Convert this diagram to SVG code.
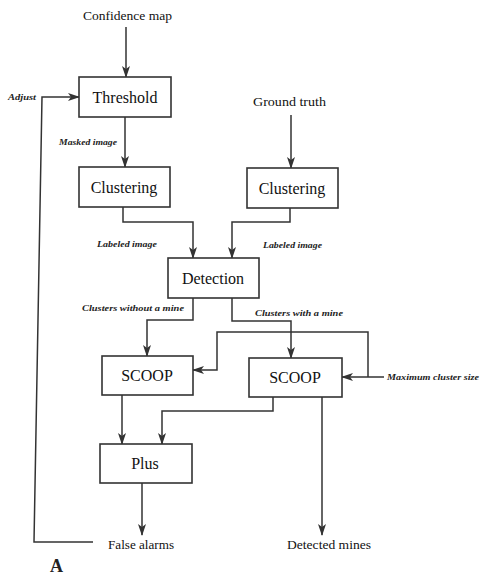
<svg xmlns="http://www.w3.org/2000/svg" width="481" height="576" viewBox="0 0 481 576">
<defs>
<marker id="ah" markerWidth="12" markerHeight="8" refX="11" refY="4" orient="auto" markerUnits="userSpaceOnUse">
<path d="M0,0 L12,4 L0,8 L3,4 Z" fill="#333"/>
</marker>
<style>
.box{fill:#fff;stroke:#333;stroke-width:1.6}
.lbl{font-family:"Liberation Serif",serif;font-size:16px;fill:#111;text-anchor:middle}
.io{font-family:"Liberation Serif",serif;font-size:12px;fill:#111}
.sm{font-family:"Liberation Serif",serif;font-size:8.5px;font-style:italic;font-weight:bold;fill:#222}
.c{fill:none;stroke:#333;stroke-width:1.5}
.a{fill:none;stroke:#333;stroke-width:1.5;marker-end:url(#ah)}
</style>
</defs>
<rect width="481" height="576" fill="#fff"/>
<g id="connectors">
<line class="a" x1="126" y1="27" x2="126" y2="77"/>
<polyline class="a" points="93,542 34,542 42,97 79,97"/>
<line class="a" x1="125" y1="117" x2="125" y2="167"/>
<line class="a" x1="291" y1="115" x2="291" y2="168"/>
<polyline class="a" points="123,207 123,222 193,222 193,258"/>
<polyline class="a" points="290,208 290,222 232,222 232,258"/>
<polyline class="a" points="193,298 193,320 147,320 147,356"/>
<polyline class="a" points="232,298 232,321 291,321 291,358"/>
<polyline class="a" points="290,332 217,332 217,370 193,370"/>
<polyline class="c" points="290,332 368,332 368,377"/>
<line class="a" x1="384" y1="377" x2="342" y2="377"/>
<line class="a" x1="122" y1="395" x2="122" y2="444"/>
<polyline class="a" points="273,397 273,411 162,411 162,444"/>
<line class="a" x1="322" y1="397" x2="322" y2="535"/>
<line class="a" x1="142" y1="483" x2="142" y2="535"/>
</g>
<g id="input-confidence"><text class="io" x="83" y="20" textLength="89" lengthAdjust="spacingAndGlyphs">Confidence map</text></g>
<g id="input-ground"><text class="io" x="253" y="106" textLength="73" lengthAdjust="spacingAndGlyphs">Ground truth</text></g>
<g id="adjust"><text class="sm" x="8" y="100" textLength="28" lengthAdjust="spacingAndGlyphs">Adjust</text></g>
<g id="threshold"><rect class="box" x="79" y="77" width="92" height="40"/><text class="lbl" x="125" y="103">Threshold</text></g>
<g id="masked-label"><text class="sm" x="59" y="145" textLength="58" lengthAdjust="spacingAndGlyphs">Masked image</text></g>
<g id="clustering-left"><rect class="box" x="79" y="167" width="91" height="40"/><text class="lbl" x="124" y="193">Clustering</text></g>
<g id="clustering-right"><rect class="box" x="247" y="168" width="91" height="40"/><text class="lbl" x="292" y="194">Clustering</text></g>
<g id="labeled-left"><text class="sm" x="97" y="247" textLength="60" lengthAdjust="spacingAndGlyphs">Labeled image</text></g>
<g id="labeled-right"><text class="sm" x="263" y="248" textLength="59" lengthAdjust="spacingAndGlyphs">Labeled image</text></g>
<g id="detection"><rect class="box" x="168" y="258" width="91" height="40"/><text class="lbl" x="213" y="284">Detection</text></g>
<g id="without-label"><text class="sm" x="82" y="311" textLength="102" lengthAdjust="spacingAndGlyphs">Clusters without a mine</text></g>
<g id="with-label"><text class="sm" x="255" y="316" textLength="88" lengthAdjust="spacingAndGlyphs">Clusters with a mine</text></g>
<g id="scoop-left"><rect class="box" x="102" y="356" width="91" height="39"/><text class="lbl" x="147" y="381">SCOOP</text></g>
<g id="scoop-right"><rect class="box" x="249" y="358" width="93" height="39"/><text class="lbl" x="295" y="383">SCOOP</text></g>
<g id="max-label"><text class="sm" x="387" y="380" textLength="92" lengthAdjust="spacingAndGlyphs">Maximum cluster size</text></g>
<g id="plus"><rect class="box" x="100" y="444" width="92" height="39"/><text class="lbl" x="145" y="469">Plus</text></g>
<g id="false-alarms"><text class="io" x="108" y="549" textLength="66" lengthAdjust="spacingAndGlyphs">False alarms</text></g>
<g id="detected-mines"><text class="io" x="287" y="549" textLength="84" lengthAdjust="spacingAndGlyphs">Detected mines</text></g>
<g id="panel-label"><text x="50" y="572" font-family="Liberation Serif,serif" font-size="18" font-weight="bold" fill="#222">A</text></g>
</svg>
